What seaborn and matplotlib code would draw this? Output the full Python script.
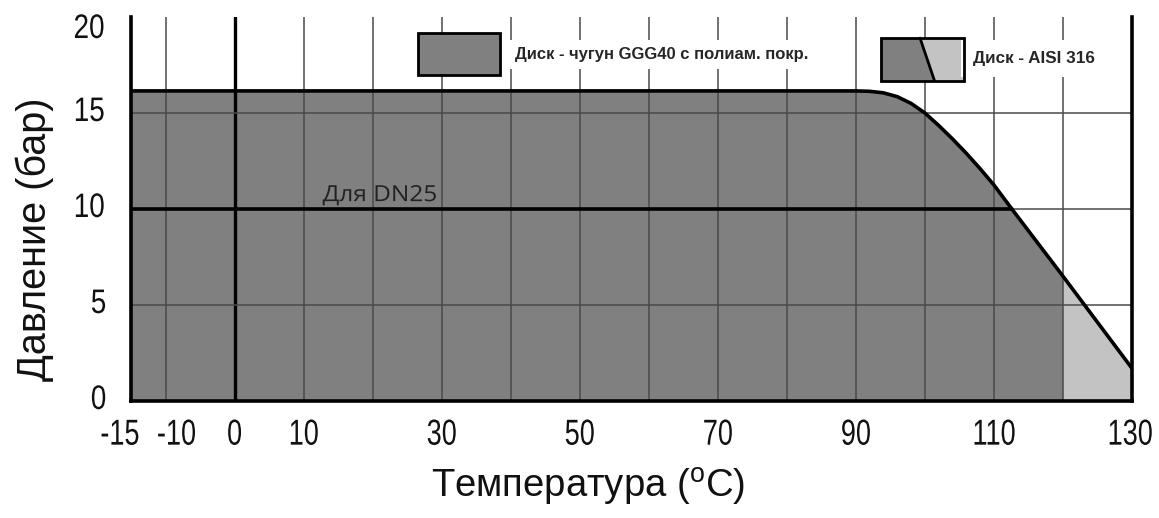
import numpy as np
import pandas as pd
import matplotlib
matplotlib.use("Agg")
import matplotlib.pyplot as plt
from matplotlib.patches import Rectangle, Polygon
from matplotlib.patheffects import AbstractPathEffect
from matplotlib.transforms import Affine2D, ScaledTranslation
import seaborn as sns

# ---- data ----
temp = [-15, 90, 92, 94, 96, 98, 100, 102, 104, 106, 108, 110, 112.6, 120, 130]
pressure = [16.15, 16.15, 16.13, 16.05, 15.85, 15.5, 15.0, 14.35, 13.65, 12.9, 12.1,
            11.25, 10.0, 6.5, 1.7]
dn25_temp = [-15, 112.6]
dn25_pressure = [10, 10]
aisi_from = 120  # light-grey region (AISI 316 disc) starts here
x_ticks = [-15, -10, 0, 10, 20, 30, 40, 50, 60, 70, 80, 90, 100, 110, 120, 130]
x_labels = ["-15", "-10", "0", "10", "", "30", "", "50", "", "70", "", "90", "", "110", "", "130"]
y_ticks = [0, 5, 10, 15, 20]
legend1 = "Диск - чугун GGG40 с полиам. покр."
legend2 = "Диск - AISI 316"
dn25_text = "Для DN25"
xlabel = "Температура ($^{\\mathrm{o}}$C)"
ylabel = "Давление (бар)"

df = pd.DataFrame({"t": temp, "p": pressure})
dn = pd.DataFrame({"t": dn25_temp, "p": dn25_pressure})


class Squeeze(AbstractPathEffect):
    """Horizontally scale a text path about its own centre (condensed look)."""

    def __init__(self, sx):
        super().__init__()
        self.sx = sx

    def draw_path(self, renderer, gc, tpath, affine, rgbFace=None):
        ext = tpath.get_extents()
        cx = 0.5 * (ext.x0 + ext.x1)
        a = Affine2D().translate(-cx, 0).scale(self.sx, 1).translate(cx, 0) + affine
        renderer.draw_path(gc, tpath, a, rgbFace)


sns.set_style("white")
base = ["Liberation Sans", "DejaVu Sans"]
plt.rcParams["font.family"] = base
plt.rcParams["mathtext.fontset"] = "custom"
plt.rcParams["mathtext.rm"] = "Liberation Sans"

DARK = "#808080"
LIGHT = "#c3c3c3"

fig = plt.figure(figsize=(11.59, 5.18), dpi=100)
ax = fig.add_axes([131 / 1159, 1 - 401 / 518, 1001 / 1159, 384 / 518])

dark = df[df.t <= aisi_from]
light = df[df.t >= aisi_from]
ax.fill_between(dark.t, 0, dark.p, color=DARK, lw=0, zorder=1)
ax.fill_between(light.t, 0, light.p, color=LIGHT, lw=0, zorder=1)

# grid lines
for xv in range(-10, 130, 10):
    if xv == 0:
        ax.axvline(xv, color="black", lw=2.4, zorder=2)
    else:
        ax.axvline(xv, color="#4a4a4a", lw=1.1, zorder=2)
for yv in [5, 10, 15]:
    ax.axhline(yv, color="#4a4a4a", lw=1.1, zorder=2)

sns.lineplot(data=df, x="t", y="p", ax=ax, color="black", lw=2.6, zorder=4,
             estimator=None, sort=False)
sns.lineplot(data=dn, x="t", y="p", ax=ax, color="black", lw=2.6, zorder=4,
             estimator=None, sort=False)

t = ax.text(13.5, 10.15, dn25_text, fontsize=16, family=["Open Sans", "DejaVu Sans"],
            color="#222222", ha="left", va="bottom", zorder=5)
t.set_path_effects([Squeeze(1.1)])

# legend-like boxes inside the plot
ax.add_patch(Rectangle((26.6, 16.98), 11.9, 2.19, facecolor=DARK, edgecolor="black",
                       lw=2, zorder=6))
ax.text(40.6, 18.05, legend1, fontsize=12, fontweight="bold",
        ha="left", va="center", zorder=6,
        bbox=dict(facecolor="white", edgecolor="none", pad=5))
x0, x1, y0, y1 = 93.6, 105.7, 16.67, 18.9
xd_top, xd_bot = 99.3, 101.4
ax.add_patch(Rectangle((x0, y0), x1 - x0, y1 - y0, facecolor=LIGHT, edgecolor="none",
                       zorder=6))
ax.add_patch(Polygon([(x0, y0), (x0, y1), (xd_top, y1), (xd_bot, y0)], closed=True,
                     facecolor=DARK, edgecolor="none", zorder=6))
ax.plot([xd_top, xd_bot], [y1, y0], color="black", lw=2, zorder=7)
ax.add_patch(Rectangle((x0, y0), x1 - x0, y1 - y0, facecolor="none", edgecolor="black",
                       lw=2, zorder=7))
ax.text(106.9, 17.85, legend2, fontsize=12.3, fontweight="bold",
        ha="left", va="center", zorder=6,
        bbox=dict(facecolor="white", edgecolor="none", pad=8))

ax.set_xlim(-15, 130)
ax.set_ylim(0, 20)
ax.set_xticks(x_ticks)
ax.set_xticklabels(x_labels)
ax.set_yticks(y_ticks)
ax.tick_params(axis="x", direction="out", length=7, width=1.3, labelsize=26, pad=5,
               color="black")
ax.tick_params(axis="y", direction="inout", length=13, width=1.3, labelsize=24.5, pad=10,
               color="black")
ax.grid(False)


def shift(lab, dx, dy):
    lab.set_transform(lab.get_transform()
                      + ScaledTranslation(dx / 100, dy / 100, fig.dpi_scale_trans))


for lab in ax.get_xticklabels():
    lab.set_path_effects([Squeeze(0.75)])
    lab.set_color("#111111")
    if lab.get_text() == "-15":
        shift(lab, -11, 0)
    elif lab.get_text() == "-10":
        shift(lab, 11, 0)
    elif lab.get_text() == "130":
        shift(lab, -2, 0)
for lab in ax.get_yticklabels():
    lab.set_path_effects([Squeeze(0.82)])
    lab.set_color("#111111")
    if lab.get_text() == "20":
        shift(lab, 0, -9)
    else:
        shift(lab, 0, 4)

for s in ["left", "bottom", "right"]:
    ax.spines[s].set_visible(True)
    ax.spines[s].set_color("black")
    ax.spines[s].set_linewidth(2.6)
    ax.spines[s].set_zorder(8)
ax.spines["top"].set_visible(False)

ax.set_xlabel(xlabel, fontsize=27.5, color="#111111")
ax.set_ylabel(ylabel, fontsize=28.5, color="#111111")
ax.xaxis.set_label_coords(0.4565, -0.17)
ax.yaxis.set_label_coords(-0.077, 0.42)

fig.savefig("out.png", dpi=100)
